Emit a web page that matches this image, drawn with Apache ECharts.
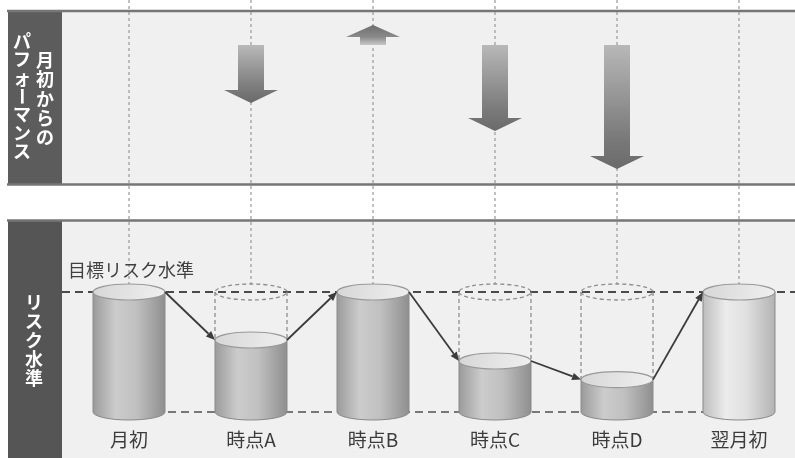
<!DOCTYPE html>
<html><head><meta charset="utf-8">
<script src="https://cdn.jsdelivr.net/npm/echarts@6/dist/echarts.min.js"></script>
<style>html,body{margin:0;padding:0;background:#fff}#c{width:795px;height:458px}</style>
</head><body><div id="c"></div>
<script>
// ---- data ----
const categories = ['月初', '時点A', '時点B', '時点C', '時点D', '翌月初'];
const performance = [null, -2.9, 1.0, -4.3, -6.2, null];   // 月初からのパフォーマンス
const riskLevel = [100, 60, 100, 42.5, 27, 100];            // リスク水準 (目標=100)
const targetRisk = 100;
const baseRisk = 0;
const topPanelTitle = ['月初からの', 'パフォーマンス'];
const bottomPanelTitle = 'リスク水準';
const targetLabel = '目標リスク水準';

// ---- styling ----
const FONT = '"Noto Sans CJK JP", "Noto Sans", sans-serif';
const RX = 36, RY = 8;
const bodyNormal = [{offset:0,color:'#9a9a9a'},{offset:0.32,color:'#cccccc'},{offset:0.6,color:'#c0c0c0'},{offset:1,color:'#8e8e8e'}];
const bodyLight  = [{offset:0,color:'#bcbcbc'},{offset:0.32,color:'#ececec'},{offset:0.6,color:'#e0e0e0'},{offset:1,color:'#b2b2b2'}];

function ellipsePath(cx, cy, rx, ry) {
  return `M${cx-rx} ${cy} A${rx} ${ry} 0 1 0 ${cx+rx} ${cy} A${rx} ${ry} 0 1 0 ${cx-rx} ${cy} Z`;
}
function cylinderPath(cx, yt, yb, rx, ry) {
  return `M${cx-rx} ${yt} L${cx-rx} ${yb} A${rx} ${ry} 0 0 0 ${cx+rx} ${yb} L${cx+rx} ${yt} Z`;
}
function verticalText(str, x, y0, step, size) {
  return str.split('').map((ch, k) => ({
    type: 'text', x: x, y: y0 + k * step,
    rotation: ch === 'ー' ? -Math.PI / 2 : 0,
    style: { text: ch, fill: '#ffffff', fontSize: size, fontWeight: 'bold', fontFamily: FONT, align: 'center', verticalAlign: 'middle' }
  }));
}

const chart = echarts.init(document.getElementById('c'), null, { renderer: 'canvas' });

const graphics = [
  { type: 'rect', shape: { x: 8, y: 10, width: 787, height: 175 }, style: { fill: '#f0f0f0' } },
  { type: 'rect', shape: { x: 8, y: 220, width: 787, height: 238 }, style: { fill: '#f0f0f0' } },
  { type: 'rect', shape: { x: 8, y: 10, width: 54, height: 175 }, style: { fill: '#5c5c5c' } },
  { type: 'rect', shape: { x: 8, y: 220, width: 54, height: 238 }, style: { fill: '#555555' } },
  { type: 'line', shape: { x1: 7, y1: 11, x2: 795, y2: 11 }, style: { stroke: '#767676', lineWidth: 2.5 } },
  { type: 'line', shape: { x1: 7, y1: 184.5, x2: 795, y2: 184.5 }, style: { stroke: '#767676', lineWidth: 2.5 } },
  { type: 'line', shape: { x1: 7, y1: 220.5, x2: 795, y2: 220.5 }, style: { stroke: '#767676', lineWidth: 2.5 } }
]
  .concat(verticalText(topPanelTitle[0], 45, 60, 19.4, 18))
  .concat(verticalText(topPanelTitle[1], 22, 41, 18.4, 18))
  .concat(verticalText(bottomPanelTitle, 34, 302, 19, 18));

const option = {
  animation: false,
  backgroundColor: '#ffffff',
  textStyle: { fontFamily: FONT },
  graphic: { elements: graphics },
  grid: [
    { left: 129, right: 56, top: 10, height: 175 },
    { left: 129, right: 56, top: 220, bottom: 28 }
  ],
  xAxis: [
    { type: 'category', gridIndex: 0, data: categories, boundaryGap: false, show: false },
    { type: 'category', gridIndex: 1, data: categories, boundaryGap: false,
      axisLine: { show: false }, axisTick: { show: false }, splitLine: { show: false },
      axisLabel: { interval: 0, margin: 0, fontSize: 19, color: '#3c3c3c', fontFamily: FONT, verticalAlign: 'top' } }
  ],
  yAxis: [
    { type: 'value', gridIndex: 0, min: -7, max: 1.75, show: false },
    { type: 'value', gridIndex: 1, min: -15, max: 160, show: false }
  ],
  series: [
    { // vertical dotted guides
      type: 'custom', xAxisIndex: 1, yAxisIndex: 1, z: 1, silent: true,
      data: categories.map((c, i) => [i, targetRisk]),
      renderItem(params, api) {
        const p = api.coord([api.value(0), api.value(1)]);
        return { type: 'line', shape: { x1: p[0], y1: 0, x2: p[0], y2: p[1] - RY },
          style: { stroke: '#999999', lineWidth: 1.2, lineDash: [3, 3] } };
      }
    },
    { // target & base dashed levels
      type: 'custom', xAxisIndex: 1, yAxisIndex: 1, z: 2, silent: true,
      data: [[0, targetRisk]],
      renderItem(params, api) {
        const t = api.coord([0, targetRisk]);
        const b0 = api.coord([0, baseRisk]);
        const b1 = api.coord([categories.length - 1, baseRisk]);
        return { type: 'group', children: [
          { type: 'line', shape: { x1: 62, y1: t[1], x2: 795, y2: t[1] },
            style: { stroke: '#4a4a4a', lineWidth: 2, lineDash: [8, 5] } },
          { type: 'line', shape: { x1: b0[0], y1: b0[1], x2: b1[0], y2: b1[1] },
            style: { stroke: '#505050', lineWidth: 1.7, lineDash: [8, 5] } },
          { type: 'text', x: 68, y: t[1] - 22,
            style: { text: targetLabel, fill: '#404040', fontSize: 18, fontFamily: FONT, align: 'left', verticalAlign: 'middle' } }
        ] };
      }
    },
    { // ghost cylinders (target outline)
      type: 'custom', xAxisIndex: 1, yAxisIndex: 1, z: 3, silent: true,
      data: riskLevel.map((v, i) => [i, v]),
      renderItem(params, api) {
        const i = api.value(0), v = api.value(1);
        if (v >= targetRisk) return null;
        const t = api.coord([i, targetRisk]);
        const l = api.coord([i, v]);
        const st = { stroke: '#8e8e8e', lineWidth: 1.3, lineDash: [4, 3], fill: null };
        return { type: 'group', children: [
          { type: 'path', shape: { pathData: ellipsePath(t[0], t[1], RX, RY) }, style: Object.assign({}, st) },
          { type: 'line', shape: { x1: t[0] - RX, y1: t[1], x2: t[0] - RX, y2: l[1] }, style: Object.assign({}, st) },
          { type: 'line', shape: { x1: t[0] + RX, y1: t[1], x2: t[0] + RX, y2: l[1] }, style: Object.assign({}, st) }
        ] };
      }
    },
    { // cylinders
      type: 'custom', xAxisIndex: 1, yAxisIndex: 1, z: 4, silent: true,
      data: riskLevel.map((v, i) => [i, v]),
      renderItem(params, api) {
        const i = api.value(0), v = api.value(1);
        const t = api.coord([i, v]);
        const b = api.coord([i, baseRisk]);
        const stops = (i === categories.length - 1) ? bodyLight : bodyNormal;
        return { type: 'group', children: [
          { type: 'path', shape: { pathData: cylinderPath(t[0], t[1], b[1], RX, RY) },
            style: { fill: { type: 'linear', x: 0, y: 0, x2: 1, y2: 0, colorStops: stops }, stroke: '#8a8a8a', lineWidth: 1 } },
          { type: 'path', shape: { pathData: ellipsePath(t[0], t[1], RX, RY) },
            style: { fill: { type: 'linear', x: 0, y: 0, x2: 1, y2: 1, colorStops: [{offset:0,color:'#d6d6d6'},{offset:1,color:'#f0f0f0'}] },
                     stroke: '#999999', lineWidth: 1.2 } }
        ] };
      }
    },
    { // flow arrows between cylinders
      type: 'custom', xAxisIndex: 1, yAxisIndex: 1, z: 5, silent: true,
      data: riskLevel.map((v, i) => [i, v]).slice(1),
      renderItem(params, api) {
        const i = api.value(0), v = api.value(1);
        const p0 = api.coord([i - 1, riskLevel[i - 1]]);
        const p1 = api.coord([i, v]);
        const sx = p0[0] + RX, sy = p0[1];
        const ex = p1[0] - RX, ey = p1[1];
        const dx = ex - sx, dy = ey - sy, len = Math.hypot(dx, dy);
        const ux = dx / len, uy = dy / len;
        const L = 9, W = 3.8;
        const hx = ex - ux * L, hy = ey - uy * L;
        return { type: 'group', children: [
          { type: 'line', shape: { x1: sx, y1: sy, x2: hx, y2: hy }, style: { stroke: '#3c3c3c', lineWidth: 1.8 } },
          { type: 'polygon', shape: { points: [[ex, ey], [hx - uy * W, hy + ux * W], [hx + uy * W, hy - ux * W]] },
            style: { fill: '#3c3c3c' } }
        ] };
      }
    },
    { // performance arrows
      type: 'custom', xAxisIndex: 0, yAxisIndex: 0, z: 5, silent: true,
      data: performance.map((v, i) => [i, v]).filter(d => d[1] != null),
      renderItem(params, api) {
        const i = api.value(0), v = api.value(1);
        const base = api.coord([i, 0]);
        const tip = api.coord([i, v]);
        const x = base[0], y0 = base[1], y1 = tip[1];
        const down = v < 0;
        const HL = down ? 13 : 12, SW = 13, HW = 27;
        const yh = down ? y1 - HL : y1 + HL;
        const stops = down
          ? [{offset:0,color:'#b8b8b8'},{offset:0.75,color:'#7a7a7a'},{offset:1,color:'#6a6a6a'}]
          : [{offset:0,color:'#6e6e6e'},{offset:0.6,color:'#8a8a8a'},{offset:1,color:'#c8c8c8'}];
        return { type: 'polygon',
          shape: { points: [[x - SW, y0], [x + SW, y0], [x + SW, yh], [x + HW, yh], [x, y1], [x - HW, yh], [x - SW, yh]] },
          style: { fill: { type: 'linear', x: 0, y: 0, x2: 0, y2: 1, colorStops: stops } } };
      }
    }
  ]
};
chart.setOption(option);
</script>
</body></html>
